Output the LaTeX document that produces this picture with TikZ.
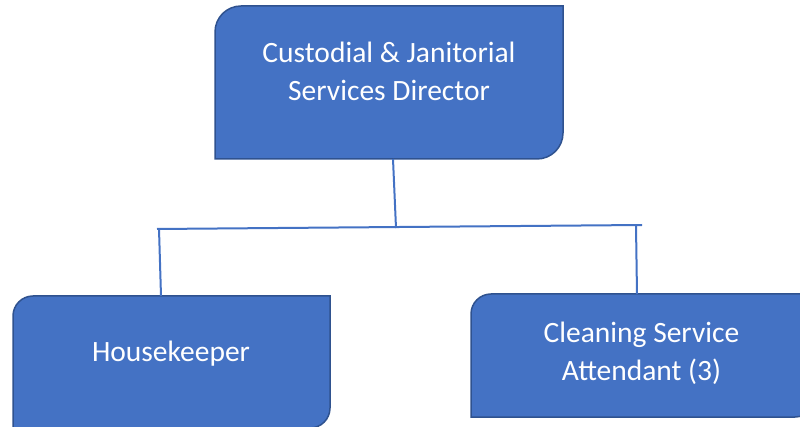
\documentclass[tikz,border=0pt]{standalone}
\usepackage{fontspec}
\setmainfont{Carlito}
\definecolor{boxfill}{HTML}{4472C4}
\definecolor{boxline}{HTML}{2F528F}
\definecolor{connline}{HTML}{4472C4}
\tikzset{
  orgbox/.style={fill=boxfill,draw=boxline,line width=1.5pt},
  orgtext/.style={text=white,font=\fontsize{29.5}{38}\selectfont,align=center,inner sep=0pt},
  conn/.style={draw=connline,line width=2pt}
}
\begin{document}
\begin{tikzpicture}[x=1pt,y=-1pt]
\clip (0,0) rectangle (800,427);
% boxes (rounded top-left and bottom-right corners)
\path[orgbox] (215,159) -- (215,32) arc[start angle=180,end angle=90,x radius=26,y radius=-26] -- (563,6) -- (563,133) arc[start angle=0,end angle=-90,x radius=26,y radius=-26] -- cycle;
\path[orgbox] (13,430) -- (13,316) arc[start angle=180,end angle=90,x radius=20,y radius=-20] -- (330,296) -- (330,408) arc[start angle=0,end angle=-90,x radius=20,y radius=-20] -- cycle;
\path[orgbox] (471,417) -- (471,314) arc[start angle=180,end angle=90,x radius=20,y radius=-20] -- (815,294) -- (815,397) arc[start angle=0,end angle=-90,x radius=20,y radius=-20] -- cycle;
% texts
\node[orgtext] (dir) at (389,71) {Custodial \& Janitorial\\Services Director};
\node[orgtext,anchor=base] (hk) at (171,361) {Housekeeper};
\node[orgtext] (csa) at (641.5,353) {Cleaning Service\\Attendant (3)};
% connector points
\coordinate (dirb) at (393,159);
\coordinate (junc) at (396,228);
\coordinate (hl) at (157,229);
\coordinate (hr) at (642,225);
\coordinate (lt) at (159,229);
\coordinate (lb) at (161,296);
\coordinate (rt) at (636,226);
\coordinate (rb) at (637,294);
\path[conn] (dirb) -- (junc);
\path[conn] (hl) -- (hr);
\path[conn] (lt) -- (lb);
\path[conn] (rt) -- (rb);
\end{tikzpicture}
\end{document}
